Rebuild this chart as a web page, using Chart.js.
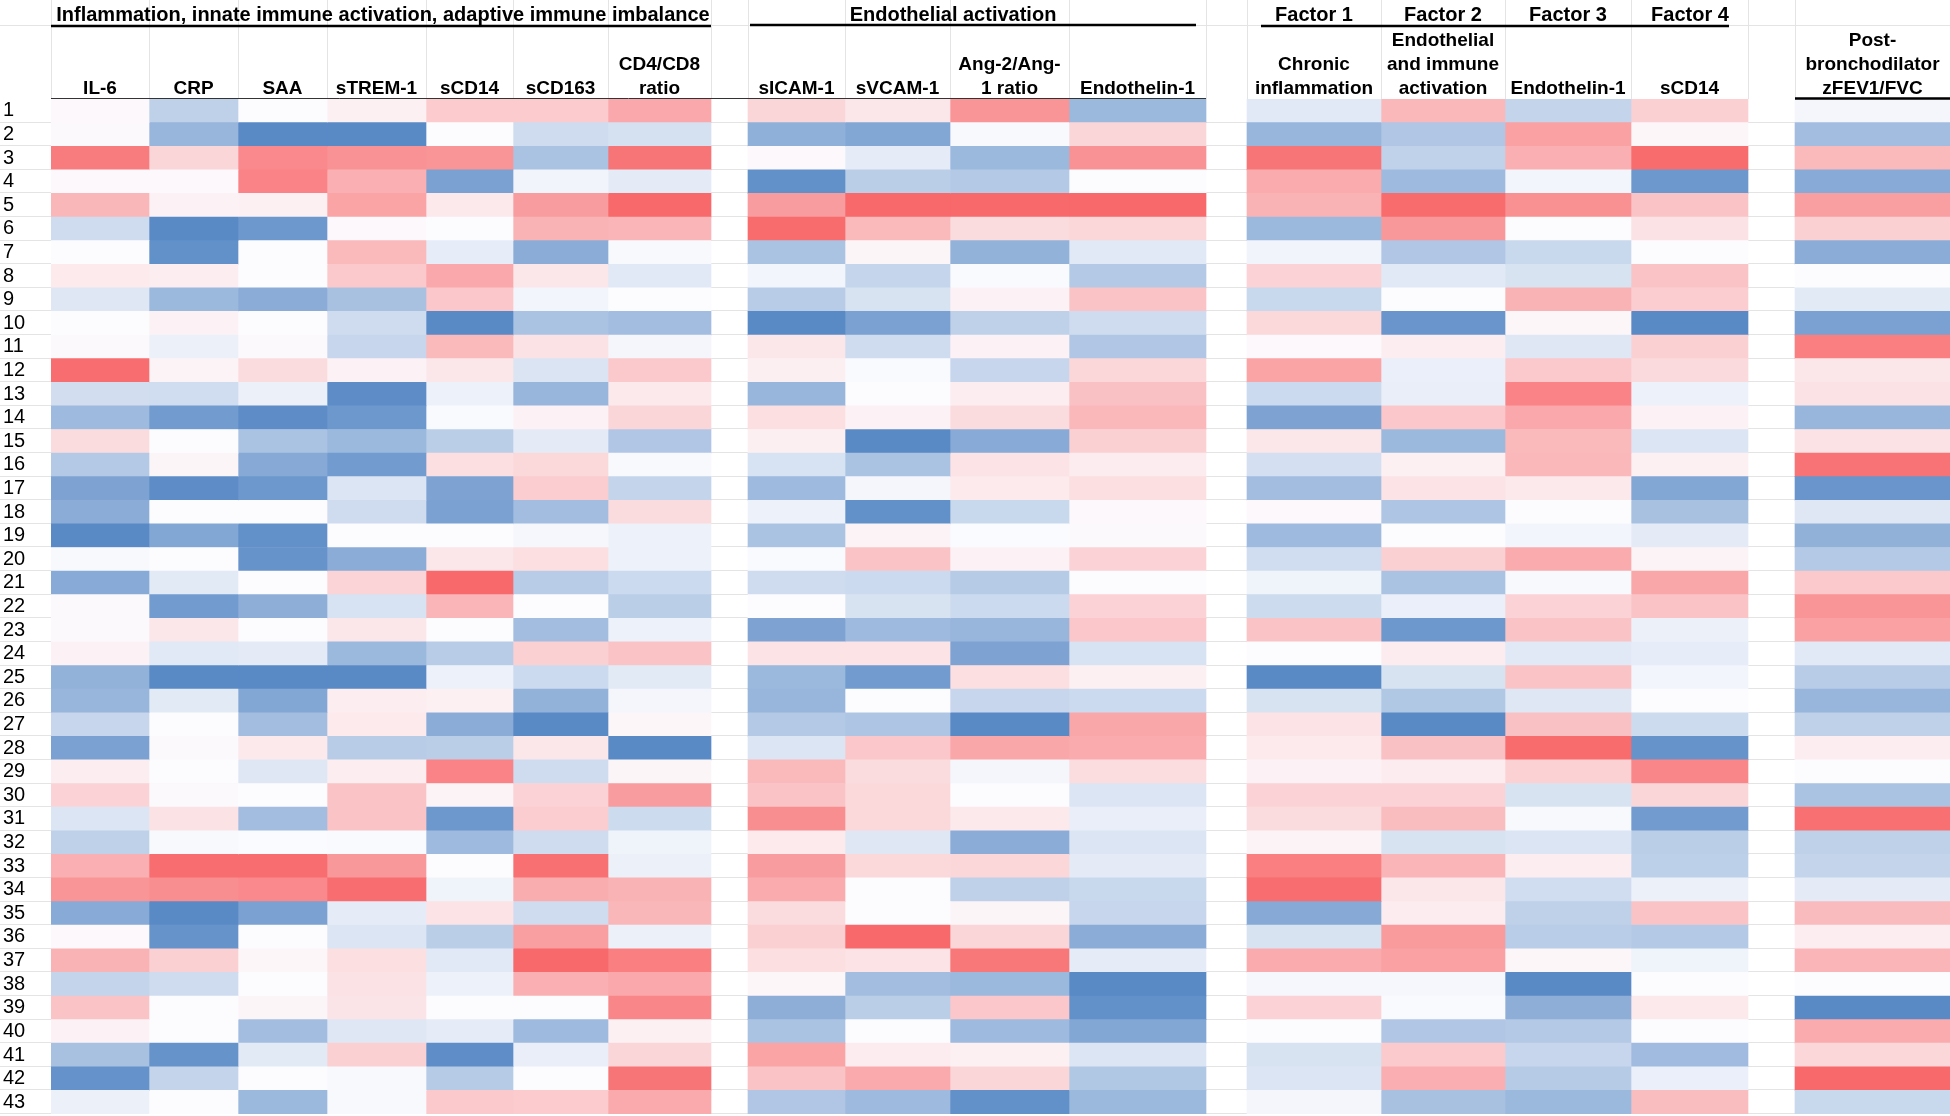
<!DOCTYPE html>
<html>
<head>
<meta charset="utf-8">
<title>Biomarker heatmap</title>
<script src="https://cdn.jsdelivr.net/npm/chart.js@4"></script>
<style>
    html, body { margin: 0; padding: 0; background: #fff; }
    #wrap { width: 1950px; height: 1116px; position: relative; }
</style>
</head>
<body>
<div id="wrap"><canvas id="heat" width="1950" height="1116"></canvas></div>
<script>
// Row numbers
const rows = Array.from({ length: 43 }, (_, i) => String(i + 1));

const il6 = [3,2,88,3,47,-28,0,12,-18,0,2,97,-26,-58,22,-45,-78,-70,-100,-3,-72,2,2,7,-65,-62,-33,-80,10,28,-20,-38,52,70,-72,3,50,-35,38,7,-52,-93,-10];
const crp = [-38,-62,26,3,7,-100,-95,10,-60,7,-10,6,-27,-85,0,5,-98,0,-75,1,-16,-85,15,-17,-100,-16,1,2,0,2,18,-3,97,75,-100,-92,30,-28,0,0,-92,-35,0];
const saa = [0,-100,78,82,8,-88,0,0,-70,0,2,22,-10,-98,-50,-73,-88,0,-95,-92,0,-68,1,-15,-100,-75,-55,13,-18,0,-55,-1,97,78,-80,0,4,0,5,-55,-16,1,-60];
const strem1 = [8,-100,72,52,60,3,45,35,-52,-28,-33,7,-98,-88,-60,-85,-20,-28,0,-70,27,-23,14,-60,-100,10,12,-42,10,38,38,-2,68,97,-14,-20,20,18,16,-18,30,-3,-3];
const scd14 = [33,0,70,-80,13,0,-13,57,36,-100,45,14,-9,-2,-40,20,-78,-80,0,15,100,48,1,-42,-9,8,-70,-40,82,6,-88,-58,0,-8,17,-40,-17,-9,0,-14,-97,-43,35];
const scd163 = [33,-28,-50,-7,65,50,-70,14,-6,-50,18,-21,-62,7,-15,24,32,-55,-4,20,-42,0,-55,30,-30,-65,-100,14,-28,28,32,-28,95,54,-28,63,100,52,0,-58,-12,0,33];
const cd4cd8 = [57,-24,92,-15,100,48,-3,-17,0,-55,-5,35,13,26,-47,-3,-35,22,-9,-9,-30,-40,-9,38,-16,-5,4,-100,5,65,-29,-8,-10,50,47,-10,85,57,80,8,26,92,56];
const sicam1 = [26,-67,3,-95,65,98,-50,-6,-42,-100,15,9,-62,20,9,-23,-58,-9,-50,-2,-28,0,-78,17,-60,-62,-45,-20,45,38,75,12,65,55,22,30,20,4,-68,-50,60,38,-47];
const svcam1 = [14,-75,-14,-40,100,45,5,-34,-22,-80,-28,-2,1,7,-100,-50,-5,-95,6,38,-30,-22,-58,17,-85,0,-48,36,22,24,24,-18,24,0,0,100,17,-55,-40,0,11,56,-58];
const angRatio = [70,-3,-60,-45,100,22,-65,-2,7,-38,7,-33,10,22,-72,17,12,-32,-1,7,-43,-30,-62,-78,20,-33,-100,58,-5,0,13,-70,25,-38,5,26,90,-60,36,-58,8,26,-95];
const endothelin1 = [-60,26,72,0,100,25,-17,-45,38,-28,-47,25,40,46,30,11,20,3,2,28,0,28,36,-23,8,-30,58,55,21,-20,-12,-20,-15,-32,-33,-70,-14,-100,-95,-75,-20,-46,-60];
const factor1 = [-17,-62,92,55,50,-60,-7,28,-32,24,3,60,-30,-78,15,-25,-55,3,-58,-27,-8,-29,38,0,-100,-22,17,12,7,28,22,6,85,97,-73,-22,55,-4,28,0,-22,-20,-5];
const factor2 = [46,-47,-37,-58,98,68,-47,-17,0,-90,10,-11,-12,36,-60,8,17,-48,1,30,-50,-11,-88,11,-22,-46,-100,40,11,28,43,-22,48,15,11,67,62,-4,-2,-47,34,53,-52];
const factor3 = [-35,62,52,-6,73,1,-32,-22,50,4,-18,35,82,57,45,46,13,0,-6,55,-3,28,39,-17,38,-18,40,98,29,-22,-3,-20,10,-27,-38,-41,4,-100,-68,-45,-33,-43,-60];
const factor4 = [30,4,98,-88,38,18,0,38,32,-100,30,23,-9,7,-20,8,-75,-52,-15,6,58,38,-10,-13,-6,1,-29,-92,80,26,-85,-40,-39,-10,38,-45,-8,0,13,0,-57,-11,43];
const zfev1 = [-5,-55,45,-72,63,30,-70,0,-16,-80,85,14,18,-62,18,93,-90,-18,-66,-45,35,70,62,-17,-42,-62,-38,10,1,-50,95,-38,-35,-15,44,10,48,0,-100,55,25,100,-32];

const series = [il6, crp, saa, strem1, scd14, scd163, cd4cd8, sicam1, svcam1, angRatio, endothelin1, factor1, factor2, factor3, factor4, zfev1];

const columnLabels = [
    ['IL-6'], ['CRP'], ['SAA'], ['sTREM-1'], ['sCD14'], ['sCD163'], ['CD4/CD8', 'ratio'],
    ['sICAM-1'], ['sVCAM-1'], ['Ang-2/Ang-', '1 ratio'], ['Endothelin-1'],
    ['Chronic', 'inflammation'], ['Endothelial', 'and immune', 'activation'], ['Endothelin-1'], ['sCD14'],
    ['Post-', 'bronchodilator', 'zFEV1/FVC'],
];

// Layout: left/right edge of each column in sheet pixels
const columnSpans = [
    [51, 149], [149, 238], [238, 327], [327, 426], [426, 513], [513, 608], [608, 711],
    [748, 845], [845, 950], [950, 1069], [1069, 1206],
    [1247, 1381], [1381, 1505], [1505, 1631], [1631, 1748],
    [1795, 1950],
];
const extraRules = [711, 748, 1206, 1247, 1748, 1795];

const groupHeaders = [
    { text: 'Inflammation, innate immune activation, adaptive immune imbalance', x: 383 },
    { text: 'Endothelial activation', x: 953 },
    { text: 'Factor 1', x: 1314 },
    { text: 'Factor 2', x: 1443 },
    { text: 'Factor 3', x: 1568 },
    { text: 'Factor 4', x: 1690 },
];

const GRID = '#e4e4e4';
const LOW = [90, 138, 198], MID = [252, 252, 255], HIGH = [248, 105, 107];

function cellColor(v) {
    const end = v < 0 ? LOW : HIGH;
    const t = Math.abs(v) / 100;
    const c = MID.map((m, i) => Math.round(m + (end[i] - m) * t));
    return `rgb(${c[0]},${c[1]},${c[2]})`;
}

// Sheet rules under the bars, header text and black rules on top
const sheetPlugin = {
    id: 'sheet',
    beforeDatasetsDraw(chart) {
        const { ctx, scales: { x, y } } = chart;
        const half = (y.getPixelForValue(1) - y.getPixelForValue(0)) / 2;
        ctx.save();
        ctx.strokeStyle = GRID;
        ctx.lineWidth = 1;
        ctx.beginPath();
        rows.forEach((r, i) => {
            const py = Math.round(y.getPixelForValue(i) + half) - 0.5;
            ctx.moveTo(0, py);
            ctx.lineTo(1950, py);
        });
        ctx.moveTo(0, 25.5);
        ctx.lineTo(1950, 25.5);
        const edges = new Set(extraRules);
        columnSpans.forEach((s) => { edges.add(s[0]); edges.add(s[1]); });
        edges.forEach((e) => {
            const px = Math.round(x.getPixelForValue(e)) + 0.5;
            ctx.moveTo(px, 0);
            ctx.lineTo(px, chart.chartArea.top);
        });
        ctx.stroke();
        ctx.restore();
    },
    afterDatasetsDraw(chart) {
        const { ctx, scales: { x } } = chart;
        ctx.save();
        ctx.fillStyle = '#000';
        ctx.textAlign = 'center';
        ctx.textBaseline = 'alphabetic';

        ctx.font = 'bold 20px "Liberation Sans", Arial, sans-serif';
        groupHeaders.forEach((g) => {
            ctx.fillText(g.text, x.getPixelForValue(g.x), 21);
        });
        ctx.strokeStyle = '#000';
        ctx.lineWidth = 2.5;
        ctx.beginPath();
        ctx.moveTo(x.getPixelForValue(51), 26);
        ctx.lineTo(x.getPixelForValue(711), 26);
        ctx.moveTo(x.getPixelForValue(750), 25);
        ctx.lineTo(x.getPixelForValue(1196), 25);
        ctx.moveTo(x.getPixelForValue(1261), 26);
        ctx.lineTo(x.getPixelForValue(1729), 26);
        ctx.moveTo(x.getPixelForValue(1795), 98.5);
        ctx.lineTo(x.getPixelForValue(1950), 98.5);
        ctx.stroke();

        ctx.strokeStyle = '#333';
        ctx.lineWidth = 1;
        ctx.beginPath();
        ctx.moveTo(x.getPixelForValue(51), 98.5);
        ctx.lineTo(x.getPixelForValue(1206), 98.5);
        ctx.stroke();

        ctx.font = 'bold 19px "Liberation Sans", Arial, sans-serif';
        columnLabels.forEach((lines, i) => {
            const cx = x.getPixelForValue((columnSpans[i][0] + columnSpans[i][1]) / 2);
            lines.forEach((line, j) => {
                ctx.fillText(line, cx, 94 - (lines.length - 1 - j) * 24);
            });
        });
        ctx.restore();
    },
};

new Chart(document.getElementById('heat'), {
    type: 'bar',
    data: {
        labels: rows,
        datasets: series.map((values, i) => ({
            label: columnLabels[i].join(' '),
            data: values.map(() => columnSpans[i]),
            backgroundColor: values.map(cellColor),
            borderWidth: 0,
            grouped: false,
            barPercentage: 1,
            categoryPercentage: 1,
        })),
    },
    plugins: [sheetPlugin],
    options: {
        indexAxis: 'y',
        responsive: false,
        animation: false,
        events: [],
        layout: { padding: { left: 3, right: 0, top: 99, bottom: 2 } },
        plugins: { legend: { display: false }, tooltip: { enabled: false }, title: { display: false } },
        scales: {
            x: { type: 'linear', min: 51, max: 1950, display: false },
            y: {
                type: 'category',
                grid: { display: false },
                border: { display: false },
                afterFit(scale) {
                    scale.width = 48;
                    scale.paddingTop = 0;
                    scale.paddingBottom = 0;
                },
                ticks: {
                    autoSkip: false,
                    crossAlign: 'far',
                    padding: 0,
                    color: '#000',
                    font: { family: '"Liberation Sans", Arial, sans-serif', size: 20 },
                },
            },
        },
    },
});
</script>
</body>
</html>
